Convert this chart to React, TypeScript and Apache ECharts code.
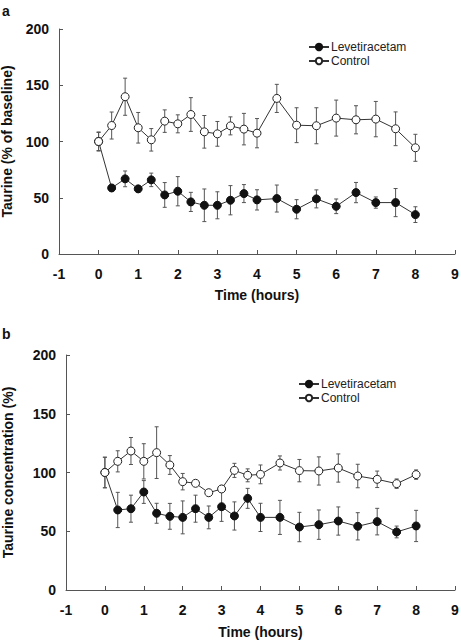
import React, { useEffect, useRef } from "react";
import * as echarts from "echarts";

// Sampling times (hours)
const times = [0, 0.33, 0.67, 1, 1.33, 1.67, 2, 2.33, 2.67, 3, 3.33, 3.67, 4, 4.5, 5, 5.5, 6, 6.5, 7, 7.5, 8];

// Panel a: Taurine (% of baseline)
const aLevMean = [100, 58.7, 66.8, 57.9, 65.9, 52.5, 55.8, 46.3, 43.3, 43.3, 47.8, 53.7, 48.1, 49.3, 39.8, 49, 42.4, 54.6, 45.7, 45.7, 35];
const aLevErr = [8, 3, 7, 3, 6, 11, 13, 8.5, 14.5, 12, 13, 8, 9, 12, 8.5, 8, 6.5, 9, 5, 12.5, 7];
const aCtlMean = [100, 114.2, 139.8, 112.2, 101.5, 118.1, 115.7, 124, 108.6, 106.8, 113.9, 111, 107.4, 138.3, 114.5, 114, 120.8, 119.3, 119.9, 111.3, 94.4];
const aCtlErr = [8.5, 12, 16.5, 13.6, 10, 10, 8, 15, 14.5, 11, 8, 14, 13, 12.5, 15.5, 16, 16, 12.5, 15.7, 15, 12];

// Panel b: Taurine concentration (%)
const bLevMean = [100, 68.1, 69.2, 83.4, 65.3, 62.7, 61.8, 69.2, 61.8, 70.9, 63, 78, 61.8, 61.8, 53.6, 55.6, 58.7, 54.2, 58.2, 49.4, 54.5];
const bLevErr = [13, 15, 11.5, 9.7, 8.5, 11, 14, 11.5, 9.7, 12.5, 12, 8.5, 12, 14.5, 12.5, 12.5, 12, 11.6, 11.3, 5, 13.3];
const bCtlMean = [100, 109.5, 118.3, 109.5, 116.9, 106.4, 92.2, 90.8, 82.8, 86, 101.8, 97.6, 98.4, 108.1, 101.6, 101.3, 103.8, 97, 94.2, 90.5, 98.2];
const bCtlErr = [13, 9, 11.5, 15, 22, 8, 7, 2, 2, 3, 6, 5.5, 8, 6, 9.5, 12, 12, 10, 7, 4, 4];

const xTicks = [-1, 0, 1, 2, 3, 4, 5, 6, 7, 8, 9];
const yTicks = [0, 50, 100, 150, 200];

const FONT = "'Liberation Sans', Arial, Helvetica, sans-serif";
const AXIS_COLOR = "#555";

const pairs = (xs: number[], ys: number[]) => xs.map((x, i) => [x, ys[i]]);
const triples = (xs: number[], ys: number[], es: number[]) => xs.map((x, i) => [x, ys[i], es[i]]);

const errRender = (params: any, api: any) => {
  const x = api.value(0);
  const y = api.value(1);
  const e = api.value(2);
  const top = api.coord([x, y + e]);
  const bot = api.coord([x, y - e]);
  const hw = 2;
  const style = { stroke: "#555", lineWidth: 1 };
  return {
    type: "group",
    children: [
      { type: "line", shape: { x1: top[0], y1: top[1], x2: bot[0], y2: bot[1] }, style },
      { type: "line", shape: { x1: top[0] - hw, y1: top[1], x2: top[0] + hw, y2: top[1] }, style },
      { type: "line", shape: { x1: bot[0] - hw, y1: bot[1], x2: bot[0] + hw, y2: bot[1] }, style },
    ],
  };
};

const makeX = (gridIndex: number, nameGap: number) => ({
  type: "value",
  gridIndex,
  min: xTicks[0],
  max: xTicks[xTicks.length - 1],
  interval: 1,
  name: "Time (hours)",
  nameLocation: "middle",
  nameGap,
  nameTextStyle: { fontFamily: FONT, fontWeight: "bold", fontSize: 14, color: "#111" },
  axisLine: { show: true, onZero: false, lineStyle: { color: AXIS_COLOR, width: 1 } },
  axisTick: { show: true, inside: true, length: 4, lineStyle: { color: AXIS_COLOR } },
  axisLabel: { fontFamily: FONT, fontWeight: "bold", fontSize: 14, color: "#111", margin: 13 },
  splitLine: { show: false },
});

const makeY = (gridIndex: number, name: string, nameGap: number) => ({
  type: "value",
  gridIndex,
  min: yTicks[0],
  max: yTicks[yTicks.length - 1],
  interval: 50,
  name,
  nameLocation: "middle",
  nameGap,
  nameTextStyle: { fontFamily: FONT, fontWeight: "bold", fontSize: 14, color: "#111" },
  axisLine: { show: true, onZero: false, lineStyle: { color: AXIS_COLOR, width: 1 } },
  axisTick: { show: true, inside: true, length: 4, lineStyle: { color: AXIS_COLOR } },
  axisLabel: { fontFamily: FONT, fontWeight: "bold", fontSize: 14, color: "#111", margin: 10 },
  splitLine: { show: false },
});

const lineSeries = (name: string, idx: number, xs: number[], ys: number[], filled: boolean) => ({
  type: "line",
  name,
  xAxisIndex: idx,
  yAxisIndex: idx,
  data: pairs(xs, ys),
  symbol: "circle",
  symbolSize: 8,
  showSymbol: true,
  z: 3,
  lineStyle: { color: "#333", width: 1 },
  itemStyle: filled
    ? { color: "#111", borderColor: "#111", borderWidth: 1 }
    : { color: "#fff", borderColor: "#222", borderWidth: 1 },
});

const errSeries = (name: string, idx: number, xs: number[], ys: number[], es: number[]) => ({
  type: "custom",
  name: name + " error",
  xAxisIndex: idx,
  yAxisIndex: idx,
  data: triples(xs, ys, es),
  renderItem: errRender,
  encode: { x: 0, y: 1 },
  z: 1,
  silent: true,
});

const makeLegend = (left: number, top: number) => ({
  orient: "vertical",
  left,
  top,
  itemWidth: 20,
  itemHeight: 8,
  itemGap: 2,
  data: ["Levetiracetam", "Control"],
  textStyle: { fontFamily: FONT, fontSize: 12, color: "#222", padding: [0, 0, 0, -3] },
});

export default function App() {
  const ref = useRef<HTMLDivElement>(null);
  useEffect(() => {
    if (!ref.current) return;
    const chart = echarts.init(ref.current, undefined, { renderer: "svg" });
    chart.setOption({
      animation: false,
      backgroundColor: "#fff",
      textStyle: { fontFamily: FONT },
      grid: [
        { left: 59, top: 29, width: 396, height: 225, containLabel: false, outerBoundsMode: "none" },
        { left: 66, top: 355, width: 389, height: 235, containLabel: false, outerBoundsMode: "none" },
      ],
      xAxis: [makeX(0, 34), makeX(1, 35)],
      yAxis: [makeY(0, "Taurine (% of baseline)", 45), makeY(1, "Taurine concentration (%)", 51)],
      legend: [makeLegend(303, 36), makeLegend(293, 373)],
      graphic: [
        { type: "text", left: 2, top: 4, style: { text: "a", font: `bold 14px ${FONT}`, fill: "#111" } },
        { type: "text", left: 2, top: 327, style: { text: "b", font: `bold 14px ${FONT}`, fill: "#111" } },
      ],
      series: [
        errSeries("Levetiracetam", 0, times, aLevMean, aLevErr),
        errSeries("Control", 0, times, aCtlMean, aCtlErr),
        lineSeries("Levetiracetam", 0, times, aLevMean, true),
        lineSeries("Control", 0, times, aCtlMean, false),
        errSeries("Levetiracetam", 1, times, bLevMean, bLevErr),
        errSeries("Control", 1, times, bCtlMean, bCtlErr),
        lineSeries("Levetiracetam", 1, times, bLevMean, true),
        lineSeries("Control", 1, times, bCtlMean, false),
      ],
    });
    return () => chart.dispose();
  }, []);
  return (
    <div
      ref={ref}
      style={{ position: "fixed", left: 0, top: 0, width: 461, height: 640, background: "#fff" }}
    />
  );
}
